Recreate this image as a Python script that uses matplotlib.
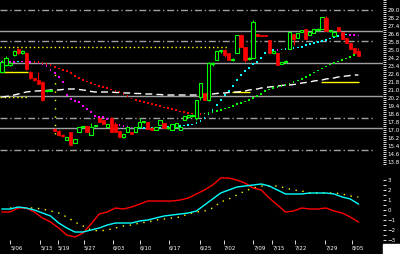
import numpy as np
import matplotlib
matplotlib.use("Agg")
import matplotlib.pyplot as plt
from matplotlib.patches import Rectangle
from matplotlib.ticker import MultipleLocator, FixedLocator

# daily candles (price)
opens = [22.8, 23.5, 23.5, 24.5, 25.1, 24.7, 24.7, 22.8, 22.2, 22.0,
         21.8, 20.9, 20.9, 17.1, 16.9, 16.5, 16.0, 16.8, 15.7, 16.8,
         17.3, 17.4, 16.5, 17.4, 18.2, 18.0, 17.3, 18.2, 17.6, 16.9,
         16.3, 16.8, 16.8, 16.8, 17.3, 17.8, 17.8, 17.2, 17.0, 17.5,
         17.7, 17.2, 17.0, 17.3, 17.0, 18.0, 18.3, 18.4, 18.2, 20.3,
         20.7, 20.0, 23.6, 24.0, 24.9, 25.0, 24.7, 24.0, 24.7, 26.5,
         25.3, 24.1, 24.2, 26.6, 26.45, 26.45, 26.0, 24.7, 24.7, 23.6,
         23.8, 25.1, 26.6, 26.2, 26.8, 27.1, 26.5, 26.7, 27.0, 27.1,
         28.2, 26.9, 26.4, 27.3, 26.8, 26.2, 25.7, 25.2, 24.9]
closes = [23.8, 24.2, 23.7, 24.9, 24.7, 24.9, 23.1, 22.2, 22.0, 21.6,
          20.0, 21.0, 21.0, 16.9, 16.5, 16.4, 16.3, 15.5, 16.1, 17.3,
          17.3, 16.8, 17.3, 17.5, 17.8, 17.6, 17.6, 16.8, 16.8, 16.3,
          16.6, 17.3, 16.6, 17.3, 17.8, 17.9, 17.1, 17.0, 17.3, 18.0,
          17.2, 17.3, 17.6, 17.7, 17.3, 18.4, 18.5, 18.5, 20.0, 21.7,
          20.0, 23.7, 23.7, 24.9, 24.9, 24.5, 24.0, 24.1, 26.5, 25.3,
          24.0, 24.2, 27.8, 26.4, 26.4, 26.4, 24.7, 24.9, 23.5, 23.8,
          23.9, 26.8, 26.1, 26.7, 27.0, 26.1, 26.8, 27.1, 27.1, 28.3,
          26.9, 26.95, 26.8, 26.9, 26.1, 25.7, 25.1, 24.7, 24.4]
highs = [24.0, 24.4, 23.8, 25.0, 25.2, 25.0, 24.8, 22.9, 22.2, 22.8,
         21.9, 21.0, 21.0, 17.2, 17.0, 16.6, 16.3, 16.8, 16.1, 17.3,
         17.4, 17.4, 17.7, 17.5, 18.2, 18.0, 17.6, 18.3, 17.8, 16.9,
         16.6, 17.3, 16.8, 17.3, 18.2, 17.9, 17.8, 17.3, 17.3, 18.0,
         17.7, 17.3, 17.6, 17.7, 17.3, 18.4, 18.5, 18.6, 20.0, 21.7,
         20.7, 23.8, 23.8, 24.9, 25.0, 25.1, 24.7, 24.2, 26.5, 26.6,
         25.3, 24.3, 28.0, 26.6, 26.45, 26.45, 26.0, 24.9, 24.7, 23.8,
         24.0, 26.8, 26.6, 26.7, 27.0, 27.1, 26.8, 27.1, 27.2, 28.3,
         28.4, 27.0, 26.8, 27.3, 26.8, 26.2, 25.7, 25.2, 25.2]
lows = [22.8, 23.4, 23.4, 24.4, 24.6, 24.6, 23.0, 22.1, 21.9, 21.6,
        19.9, 20.8, 20.9, 16.9, 16.4, 16.3, 16.0, 15.5, 15.7, 16.8,
        17.2, 16.8, 16.5, 17.3, 17.8, 17.6, 17.3, 16.8, 16.8, 16.3,
        16.2, 16.8, 16.6, 16.8, 17.3, 17.7, 17.1, 17.0, 17.0, 17.5,
        17.2, 17.1, 17.0, 17.3, 17.0, 18.0, 18.2, 18.3, 18.0, 20.0,
        20.0, 19.9, 23.4, 24.0, 24.7, 24.3, 24.0, 23.9, 24.7, 25.3,
        23.8, 24.0, 24.2, 26.4, 26.4, 26.4, 24.7, 24.7, 23.5, 23.6,
        23.7, 25.1, 25.5, 26.2, 26.8, 26.1, 26.5, 26.7, 26.9, 27.1,
        26.9, 26.8, 26.4, 26.9, 26.1, 25.7, 25.1, 24.7, 24.4]

ma_fast = [23.8, 23.8, 23.8, 23.8, 23.85, 23.85, 23.8, 23.8, 23.75, 23.7,
           23.6, 23.4, 23.0, 22.7, 22.3, 21.8, 20.5, 20.1, 19.9, 19.8,
           19.4, 19.1, 18.8, 18.4, 18.3, 18.3, 18.1, 17.8, 17.6, 17.5,
           17.4, 17.3, 17.25, 17.2, 17.21, 17.22, 17.23, 17.24, 17.245, 17.25,
           17.27, 17.3, 17.32, 17.35, 17.4, 17.45, 17.5, 17.55, 17.7, 17.9,
           18.2, 18.6, 19.0, 19.5, 20.0, 20.5, 20.9, 21.4, 22.0, 22.5,
           22.9, 23.2, 23.6, 23.8, 24.2, 24.7, 24.8, 25.0, 25.0, 25.05,
           25.1, 25.1, 25.2, 25.25, 25.3, 25.5, 25.6, 25.7, 25.8, 25.9,
           26.0, 26.15, 26.25, 26.4, 26.5, 26.55, 26.5, 26.5, 26.45]
ma_mid = [np.nan] * 8 + [23.8, 23.8,
          23.7, 23.6, 23.5, 23.3, 23.15, 23.0, 22.9, 22.7, 22.4, 22.2,
          22.0, 21.85, 21.7, 21.55, 21.4, 21.3, 21.2, 21.05, 20.9, 20.8,
          20.6, 20.4, 20.15, 20.0, 19.9, 19.8, 19.7, 19.6, 19.5, 19.4,
          19.25, 19.2, 19.1, 19.0, 18.85, 18.8, 18.7, 18.65, 18.6, 18.6,
          18.65, 18.7, 18.8, 18.9, 19.0, 19.15, 19.25, 19.4, 19.6, 19.7,
          19.85, 20.0, 20.2, 20.4, 20.6, 20.9, 21.05, 21.2, 21.3, 21.4,
          21.5, 21.65, 21.8, 21.95, 22.1, 22.3, 22.5, 22.75, 22.95, 23.15,
          23.35, 23.55, 23.7, 23.85, 24.0, 24.15, 24.3, 24.5, 24.7]
ma_slow = [20.3, 20.35, 20.4, 20.5, 20.6, 20.7, 20.8, 20.85, 20.9, 20.9,
           20.95, 20.95, 21.0, 21.0, 21.0, 21.05, 21.1, 21.1, 21.1, 21.05,
           21.0, 20.95, 20.85, 20.8, 20.8, 20.8, 20.8, 20.8, 20.75, 20.75,
           20.7, 20.7, 20.7, 20.65, 20.65, 20.6, 20.6, 20.6, 20.55, 20.55,
           20.5, 20.5, 20.5, 20.5, 20.5, 20.5, 20.5, 20.5, 20.5, 20.5,
           20.5, 20.55, 20.6, 20.65, 20.7, 20.7, 20.75, 20.8, 20.8, 20.85,
           20.9, 21.0, 21.05, 21.1, 21.2, 21.25, 21.3, 21.35, 21.4, 21.45,
           21.5, 21.5, 21.55, 21.6, 21.7, 21.75, 21.8, 21.9, 21.95, 22.0,
           22.1, 22.15, 22.2, 22.3, 22.35, 22.4, 22.45, 22.5, 22.5]

# oscillator, every second day
osc_red = [-0.2, -0.2, 0.2, 0.2, -0.2, -0.8, -1.2, -1.8, -2.5, -2.7,
           -2.3, -1.4, -0.4, -0.2, 0.2, 0.1, 0.3, 0.6, 0.9, 0.9,
           0.9, 0.9, 1.0, 1.2, 1.6, 2.0, 2.5, 3.2, 3.2, 3.0,
           2.7, 2.2, 2.0, 1.2, 0.5, -0.2, -0.1, 0.2, 0.1, 0.1,
           0.2, -0.1, -0.3, -0.7, -1.2]
osc_cyan = [0.1, 0.1, 0.3, 0.2, 0.0, -0.3, -0.6, -1.3, -1.8, -2.2,
            -2.2, -2.0, -1.8, -1.5, -1.3, -1.3, -1.3, -1.1, -1.0, -0.8,
            -0.6, -0.5, -0.4, -0.3, -0.1, 0.5, 1.1, 1.7, 2.0, 2.3,
            2.4, 2.5, 2.6, 2.4, 2.0, 1.6, 1.6, 1.6, 1.7, 1.7,
            1.7, 1.6, 1.3, 1.1, 0.6]
osc_yellow = [np.nan, 0.2, 0.2, 0.2, 0.2, 0.1, -0.1, -0.3, -0.7, -1.2,
              -1.6, -2.0, -2.1, -2.0, -1.8, -1.6, -1.5, -1.3, -1.2, -1.0,
              -0.9, -0.8, -0.7, -0.4, -0.2, -0.1, 0.2, 0.8, 1.1, 1.5,
              1.9, 2.2, 2.4, 2.4, 2.4, 2.2, 2.0, 1.9, 1.7, 1.7,
              1.7, 1.7, 1.6, 1.4, 1.3]

solid_levels = [26.9, 23.7, 20.4, 17.2]
dashdot_levels = [29.0, 25.9, 18.2, 15.0]
price_ticks = [29.0, 28.2, 27.4, 26.6, 25.8, 25.0, 24.2, 23.4, 22.6, 21.8,
               21.0, 20.2, 19.4, 18.6, 17.8, 17.0, 16.2, 15.4, 14.6, 13.8]
osc_ticks = [3, 2, 1, 0, -1, -2, -3]
date_labels = ["5/06", "5/13", "5/19", "5/27", "6/03", "6/10", "6/17",
               "6/25", "7/02", "7/09", "7/15", "7/22", "7/29", "8/05"]
date_pos = [2.0, 9.4, 13.8, 20.2, 27.4, 34.1, 41.2, 48.9, 54.8, 62.0, 66.7, 72.3, 79.8, 86.4]

BG = "black"
GRAY = "#a0a0a0"

fig = plt.figure(figsize=(4.0, 2.54), dpi=100, facecolor=BG)
ax = fig.add_axes([0, 1 - 165 / 254, 383 / 400, 165 / 254], facecolor=BG)
ax2 = fig.add_axes([0, 14 / 254, 383 / 400, 77 / 254], facecolor=BG)

idx = np.arange(len(opens))
o = np.array(opens)
c = np.array(closes)
h = np.array(highs)
l = np.array(lows)

# level lines
for lv in solid_levels:
    ax.axhline(lv, color=GRAY, lw=1.0, zorder=1)
for lv in dashdot_levels:
    ax.axhline(lv, xmax=375 / 383, color=GRAY, lw=1.0, ls=(0, (5, 2, 1, 2)), zorder=1)

# yellow marker lines
ax.hlines(25.3, -0.5, 56, color="yellow", lw=1.0, ls=(0, (1, 2)), zorder=2)
ax.hlines(22.8, -0.5, 6.4, color="yellow", lw=1.0, zorder=2)
ax.hlines(20.3, -0.5, 6.2, color="yellow", lw=1.0, ls=(0, (1, 2)), zorder=2)
ax.hlines(20.8, 56.8, 61.2, color="yellow", lw=1.0, zorder=2)
ax.hlines(21.8, 78.8, 88.1, color="yellow", lw=1.0, zorder=2)
ax.vlines(13, 16.6, 22.9, color="yellow", lw=1.0, ls=(0, (1, 5)), zorder=2)

# moving averages
ax.plot(idx, ma_slow, color="white", lw=1.0, ls=(0, (5, 3)), zorder=3)
mf = np.array(ma_fast)
up = np.r_[False, np.diff(mf) > 0]
ax.scatter(idx, mf, s=1.6, marker="s", lw=0,
           c=np.where(up, "#00ffff", "#ff00ff"), zorder=4)
mm = np.array(ma_mid)
up2 = np.r_[False, np.diff(mm) > 0]
ax.scatter(idx, mm, s=1.6, marker="s", lw=0,
           c=np.where(up2, "#00ff00", "#ff0000"), zorder=4)

# candles
rise = c >= o
col = np.where(rise, "#00ff00", "#ff0000")
ax.vlines(idx, l, h, colors=col, lw=0.8, zorder=5)
body_lo = np.minimum(o, c)
body_h = np.maximum(np.abs(c - o), 0.05)
ax.bar(idx[rise], body_h[rise], bottom=body_lo[rise], width=0.8,
       facecolor=BG, edgecolor="#00ff00", lw=0.8, zorder=6)
ax.bar(idx[~rise], body_h[~rise], bottom=body_lo[~rise], width=0.8,
       facecolor="#ff0000", edgecolor="#ff0000", lw=0.5, zorder=6)

xlim = (-0.49, 94.07)
ax.set_xlim(*xlim)
ax.set_ylim(13.5, 30.0)
ax.set_xticks([])

# oscillator panel
oi = np.arange(0, len(opens), 2)
ax2.plot(oi, osc_red, color="#ff0000", lw=1.0, zorder=3)
ax2.plot(oi, osc_cyan, color="#00ffff", lw=1.0, zorder=3)
ax2.plot(oi, osc_yellow, color="yellow", lw=1.0, ls=(0, (1, 4)), zorder=2)
ax2.set_xlim(*xlim)
ax2.set_ylim(-3.0, 4.7)

for a in (ax, ax2):
    for s in a.spines.values():
        s.set_visible(False)
    a.yaxis.tick_right()
    a.tick_params(axis="y", colors="white", labelsize=4, length=2, width=0.6, pad=1)
    a.tick_params(axis="y", which="minor", colors="white", length=2, width=0.6)

ax.yaxis.set_major_locator(FixedLocator(price_ticks))
ax.yaxis.set_minor_locator(MultipleLocator(0.2))
ax.yaxis.set_major_formatter(plt.FormatStrFormatter("%.1f"))
ax2.yaxis.set_major_locator(FixedLocator(osc_ticks))
ax2.yaxis.set_minor_locator(FixedLocator([2.5, 1.5, 0.5, -0.5, -1.5, -2.5]))

ax2.set_xticks(date_pos)
ax2.set_xticklabels(date_labels, ha="left")
ax2.tick_params(axis="x", colors="white", labelsize=4, length=3, width=0.6, pad=1)

fig.patches.append(Rectangle((383 / 400, 0), 17 / 400, 10 / 254,
                             transform=fig.transFigure, color="white"))

fig.savefig("out.png", dpi=100, facecolor=BG)
